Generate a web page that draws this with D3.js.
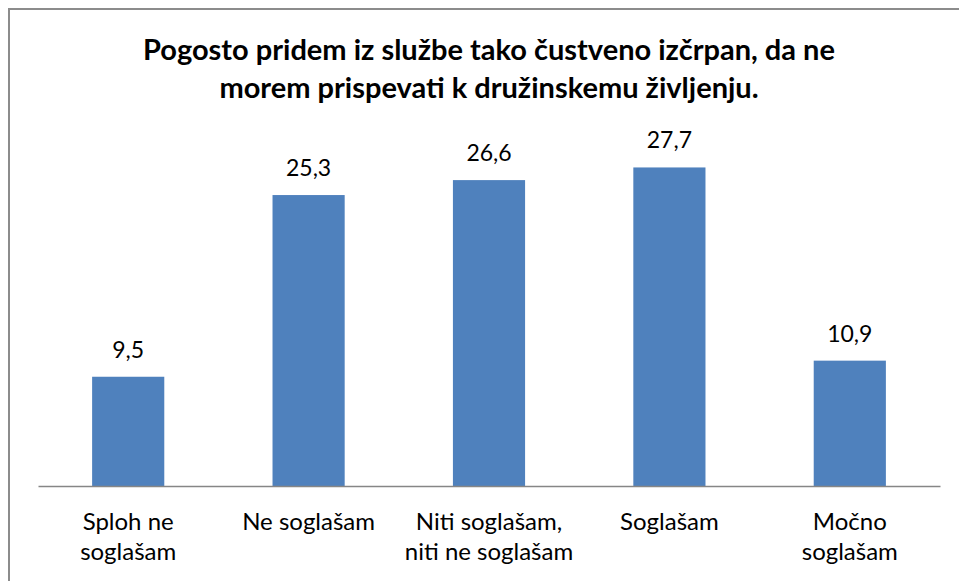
<!DOCTYPE html>
<html>
<head>
<meta charset="utf-8">
<script src="https://cdn.jsdelivr.net/npm/d3@7"></script>
<style>
  body { margin: 0; background: #fff; }
  text { font-family: Lato, "Open Sans", sans-serif; fill: #000; }
</style>
</head>
<body>
<script>
const categories = ["Sploh ne|soglašam", "Ne soglašam", "Niti soglašam,|niti ne soglašam", "Soglašam", "Močno|soglašam"];
const values = [9.5, 25.3, 26.6, 27.7, 10.9];
const titleLines = ["Pogosto pridem iz službe tako čustveno izčrpan, da ne", "morem prispevati k družinskemu življenju."];

const width = 959, height = 581;
const margin = {left: 38, right: 19, top: 141, bottom: 95};

const svg = d3.select("body").append("svg")
  .attr("width", width)
  .attr("height", height);

// chart frame
svg.append("rect")
  .attr("x", 9).attr("y", 9)
  .attr("width", 980).attr("height", 600)
  .attr("fill", "#fff")
  .attr("stroke", "#8c8c8c")
  .attr("stroke-width", 2);

const x = d3.scaleBand()
  .domain(categories)
  .range([margin.left, width - margin.right])
  .paddingInner(0.6)
  .paddingOuter(0.3);

const y = d3.scaleLinear()
  .domain([0, 30])
  .range([height - margin.bottom, margin.top]);

// title
svg.append("text")
  .attr("text-anchor", "middle")
  .attr("font-weight", "bold")
  .attr("font-size", 29)
  .selectAll("tspan")
  .data(titleLines)
  .join("tspan")
  .attr("x", 489)
  .attr("y", (d, i) => 60 + i * 38)
  .text(d => d);

// bars
svg.selectAll(".bar")
  .data(values)
  .join("rect")
  .attr("class", "bar")
  .attr("x", (d, i) => x(categories[i]))
  .attr("y", d => y(d))
  .attr("width", x.bandwidth())
  .attr("height", d => y(0) - y(d))
  .attr("fill", "#4f81bd");

// value labels
svg.selectAll(".val")
  .data(values)
  .join("text")
  .attr("class", "val")
  .attr("text-anchor", "middle")
  .attr("font-size", 23)
  .attr("x", (d, i) => x(categories[i]) + x.bandwidth() / 2)
  .attr("y", d => y(d) - 19)
  .text(d => d3.format(".1f")(d).replace(".", ","));

// x axis
const xAxis = d3.axisBottom(x).tickSize(0).tickFormat("");
const xAxisG = svg.append("g")
  .attr("transform", `translate(0,${y(0)})`)
  .call(xAxis);
xAxisG.select(".domain").attr("stroke", "#868686").attr("stroke-width", 1.5);

// category labels
svg.selectAll(".cat")
  .data(categories)
  .join("text")
  .attr("class", "cat")
  .attr("text-anchor", "middle")
  .attr("font-size", 24)
  .each(function(d) {
    const lines = d.split("|");
    d3.select(this).selectAll("tspan")
      .data(lines)
      .join("tspan")
      .attr("x", x(d) + x.bandwidth() / 2)
      .attr("y", (l, i) => 530 + i * 30)
      .text(l => l);
  });
</script>
</body>
</html>
